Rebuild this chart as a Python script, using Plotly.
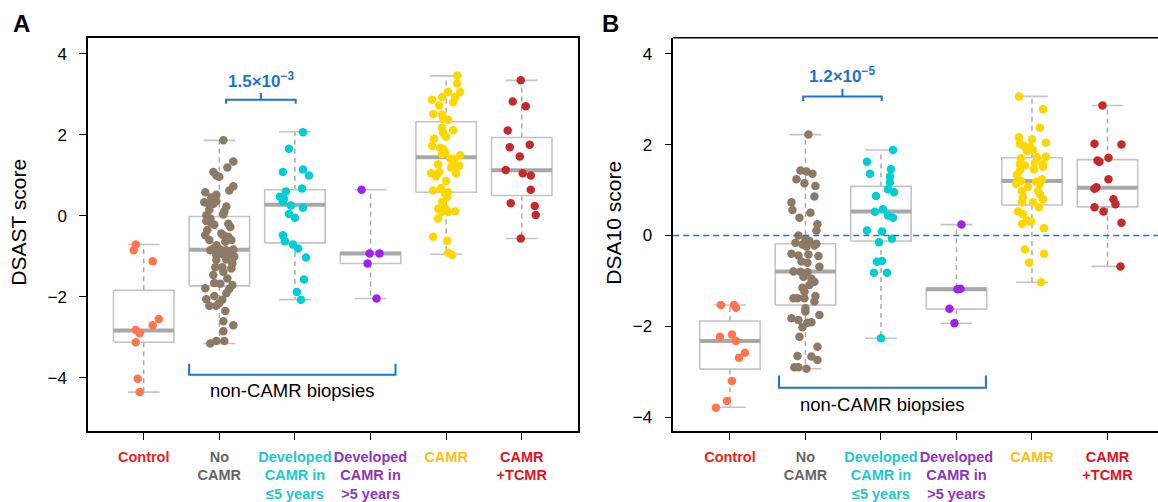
import plotly.graph_objects as go

# ---------------- data ----------------
categories = ["Control", "No CAMR", "Developed CAMR in ≤5 years",
              "Developed CAMR in >5 years", "CAMR", "CAMR+TCMR"]
tick_labels = ["Control", "No<br>CAMR", "Developed<br>CAMR in<br>≤5 years",
               "Developed<br>CAMR in<br>>5 years", "CAMR", "CAMR<br>+TCMR"]
label_colors = ["#F21D1D", "#666666", "#1CC8D4", "#8E35BC", "#FDBF14", "#E0141E"]
point_colors = ["#FF7550", "#8C7A66", "#00CED1", "#A020F0", "#FFD700", "#C42A2A"]
y_ticks = [-4, -2, 0, 2, 4]
y_tick_text = ["\u22124", "\u22122", "0", "2", "4"]

# Panel A: DSAST score
a_control = [-0.71, -0.85, -1.12, -2.55, -2.70, -2.82, -2.90, -3.12, -4.02, -4.35]
a_nocamr = [1.86, 1.34, 1.19, 1.08, 0.99, 0.96, 0.73, 0.62, 0.58, 0.52, 0.33, 0.31, 0.29,
            0.36, 0.23, 0.11, 0.03, 0.01, -0.07, -0.13, -0.18, -0.22, -0.20, -0.28, -0.48,
            -0.48, -0.52, -0.60, -0.60, -0.64, -0.81, -0.85, -0.83, -0.85, -0.83, -0.85,
            -0.97, -0.95, -0.97, -1.01, -1.09, -1.08, -1.27, -1.27, -1.18, -1.30, -1.38,
            -1.79, -1.66, -1.68, -1.71, -1.81, -1.91, -2.06, -1.98, -2.07, -2.15, -2.22,
            -2.22, -2.60, -2.70, -2.85, -3.15, -3.09, -3.09, -0.44, -0.73, -1.46, 0.45,
            -0.35, -1.55, 0.15, -2.35]
a_dev5 = [2.06, 1.65, 1.08, 1.14, 0.99, 0.67, 0.60, 0.47, 0.42, 0.35, 0.25, 0.20, 0.04,
          -0.05, -0.48, -0.63, -0.71, -0.81, -1.03, -1.57, -1.88, -2.07]
a_devlate = [0.64, -0.93, -0.93, -1.18, -2.04]
a_camr = [3.46, 3.26, 3.05, 3.05, 2.93, 2.93, 2.86, 2.80, 2.72, 2.51, 2.50, 2.39, 2.37,
          2.17, 2.11, 2.05, 1.95, 1.90, 1.72, 1.68, 1.64, 1.52, 1.56, 1.49, 1.41, 1.40,
          1.25, 1.23, 1.27, 1.19, 1.05, 1.08, 0.97, 1.05, 0.86, 0.62, 0.68, 0.58, 0.54,
          0.46, 0.34, 0.17, 0.19, 0.09, 0.09, 0.11, -0.07, -0.52, -0.62, -0.91, -0.97]
a_tcmr = [3.34, 2.82, 2.70, 2.10, 1.69, 1.75, 1.46, 1.13, 1.05, 0.99, 0.64, 0.31, 0.24,
          0.02, -0.56]

# jitter of each point (pixels)
ja_control = [-8, -10, 9, 15, 9, -8, -4, -8, -6, -4]
ja_nocamr = [4, 14, 8, -6, -3, 0, 14, 10, -14, -3, -15, -11, -6, -3, 7, 5, 4, -13, -9, -13,
             -8, -5, 9, 11, -14, 4, 9, 12, -10, 6, -6, -3, 1, 7, 14, -9, -3, 3, 10, 15, -3,
             7, -4, 3, 13, 12, 4, -14, -5, 1, 13, 10, 7, -13, -5, 3, 0, -3, -10, 4, 14, 4,
             -9, -3, 5, 2, -3, -6, -8, -12, 8, -10, 6]
ja_dev5 = [8, -6, -12, 8, 14, 7, -9, -15, -11, -12, -4, 8, -6, 0, -12, -10, -2, 3, 11, 9, 2, 6]
ja_devlate = [-9, -1, 9, -3, 6]
ja_camr = [11, 11, 2, 14, -4, 9, -14, 7, -7, -13, -4, -3, 2, -4, 7, -3, 0, -12, -14, -6, -3,
           -4, -1, 14, 4, 8, 6, 13, -8, 5, -15, -7, -10, 10, 0, -13, -5, 2, -1, 1, -4, -8,
           -1, -4, 2, 9, -8, -13, 1, 2, 6]
ja_tcmr = [-1, -9, 4, -14, -12, 8, -2, -16, 1, 9, 9, -11, 13, 14, -1]

# box statistics, panel A (lower whisker, q1, median, q3, upper whisker)
a_lo = [-4.35, -3.15, -2.07, -2.04, -0.95, -0.56]
a_q1 = [-3.12, -1.73, -0.67, -1.18, 0.58, 0.50]
a_med = [-2.83, -0.84, 0.27, -0.93, 1.44, 1.12]
a_q3 = [-1.84, -0.02, 0.64, -0.91, 2.32, 1.93]
a_hi = [-0.71, 1.86, 2.07, 0.64, 3.45, 3.34]

# Panel B: DSA10 score
b_control = [-1.53, -1.53, -1.59, -2.23, -2.18, -2.32, -2.58, -2.69, -3.20, -3.64, -3.79]
b_nocamr = [2.22, 1.43, 1.41, 1.36, 1.24, 1.15, 1.09, 0.86, 0.73, 0.56, 0.50, 0.39, 0.25,
            0.11, 0.00, -0.07, -0.12, -0.16, -0.18, -0.20, -0.24, -0.22, -0.40, -0.44, -0.42,
            -0.45, -0.57, -0.60, -0.69, -0.79, -0.80, -0.81, -0.91, -0.95, -1.02, -1.09,
            -1.15, -1.24, -1.33, -1.38, -1.38, -1.38, -1.45, -1.60, -1.67, -1.82, -1.86,
            -1.75, -1.91, -1.92, -2.02, -2.23, -2.45, -2.65, -2.66, -2.90, -2.90, -2.93, -2.74]
b_dev5 = [1.88, 1.62, 1.36, 1.46, 1.30, 1.17, 1.02, 0.95, 0.87, 0.58, 0.52, 0.44, 0.39,
          0.11, 0.09, -0.07, -0.15, -0.58, -0.56, -0.82, -0.82, -2.26]
b_devlate = [0.24, -1.18, -1.17, -1.61, -1.93]
b_camr = [3.06, 2.78, 2.37, 2.16, 2.11, 2.04, 2.02, 1.97, 1.94, 1.88, 1.86, 1.73, 1.70,
          1.72, 1.60, 1.57, 1.57, 1.54, 1.51, 1.46, 1.43, 1.33, 1.24, 1.20, 1.18, 1.14,
          1.14, 1.07, 0.98, 0.98, 0.91, 0.84, 0.80, 0.73, 0.73, 0.62, 0.53, 0.47, 0.33,
          0.31, 0.26, 0.16, -0.31, -0.40, -0.60, -1.03]
b_tcmr = [2.86, 2.02, 2.00, 1.71, 1.65, 1.62, 1.24, 1.06, 1.03, 0.80, 0.69, 0.62, 0.53,
          0.28, -0.68]

jb_control = [-9, 4, 6, -10, 2, 6, 15, 9, 2, -3, -14]
jb_nocamr = [3, -5, 1, 7, -9, -1, 10, 9, -14, -13, 5, -6, 12, 11, -7, 0, 4, -10, 11, -3, 1,
             9, -14, -7, 3, 13, -4, 2, 14, -12, -5, 2, -2, 6, 9, 4, -3, -1, 10, -12, -8, -1,
             9, 0, 0, -14, -7, 14, 6, 2, -3, -6, 12, -8, 6, -11, -7, 1, 12]
jb_dev5 = [12, -14, -11, 10, 9, 9, 7, 13, -5, 2, -6, 7, 12, -14, 1, 11, -2, -4, 1, -7, 6, 0]
jb_devlate = [5, 1, 4, -7, -2]
jb_camr = [-13, 11, 8, -13, 0, 14, -12, -8, -2, 1, -5, 14, -11, 5, 3, 11, -12, -7, 11, 2,
           -12, -15, 10, -11, 4, 8, -16, -4, 6, -10, 8, -9, 11, 1, -10, 7, -14, -9, -5, -1,
           -10, 12, -7, 12, -3, 9]
jb_tcmr = [-5, -13, 14, 1, -10, -8, 1, -11, -13, 6, 8, -13, -4, 14, 13]

b_lo = [-3.78, -2.93, -2.26, -1.93, -1.03, -0.68]
b_q1 = [-2.94, -1.53, -0.12, -1.62, 0.67, 0.63]
b_med = [-2.32, -0.79, 0.53, -1.18, 1.20, 1.05]
b_q3 = [-1.88, -0.18, 1.08, -1.16, 1.71, 1.67]
b_hi = [-1.53, 2.22, 1.88, 0.24, 3.06, 2.86]

# significance annotations
a_pval = "1.5×10<sup>\u22123</sup>"
b_pval = "1.2×10<sup>\u22125</sup>"
a_sig_x = [1.09, 2.01]
a_sig_y = 2.86
b_sig_x = [0.97, 2.01]
b_sig_y = 3.06
a_group_x = [0.60, 3.33]
a_group_y = -3.92
b_group_x = [0.65, 3.39]
b_group_y = -3.35
group_label = "non-CAMR biopsies"

# ---------------- styling ----------------
FONT = "Liberation Sans, Arial, Helvetica, sans-serif"
BLUE = "#1A74D0"
BOX_COL = "#C4C4C4"
MED_COL = "#A8A8A8"
WHISK_COL = "#ABABAB"
PX_PER_UNIT = 75.5
BOX_HALF = 0.4
CAP_HALF = 0.21
W, H = 1158, 502

fig = go.Figure()


def add_panel(xa, ya, groups, jitters, lo, q1, med, q3, hi):
    bx, by, mx, my, wx, wy, cx, cy = [], [], [], [], [], [], [], []
    for i in range(len(categories)):
        bx += [i - BOX_HALF, i + BOX_HALF, i + BOX_HALF, i - BOX_HALF, i - BOX_HALF, None]
        by += [q1[i], q1[i], q3[i], q3[i], q1[i], None]
        mx += [i - BOX_HALF, i + BOX_HALF, None]
        my += [med[i], med[i], None]
        wx += [i, i, None, i, i, None]
        wy += [q3[i], hi[i], None, q1[i], lo[i], None]
        cx += [i - CAP_HALF, i + CAP_HALF, None, i - CAP_HALF, i + CAP_HALF, None]
        cy += [hi[i], hi[i], None, lo[i], lo[i], None]
    common = dict(xaxis=xa, yaxis=ya, mode="lines", hoverinfo="skip", showlegend=False)
    fig.add_trace(go.Scatter(x=wx, y=wy, line=dict(color=WHISK_COL, width=1.5, dash="5px,4px"), **common))
    fig.add_trace(go.Scatter(x=cx, y=cy, line=dict(color=BOX_COL, width=1.6), **common))
    fig.add_trace(go.Scatter(x=bx, y=by, line=dict(color=BOX_COL, width=1.6), **common))
    fig.add_trace(go.Scatter(x=mx, y=my, line=dict(color=MED_COL, width=4), **common))
    for i, (vals, jit) in enumerate(zip(groups, jitters)):
        xs = [i + j / PX_PER_UNIT for j in jit]
        fig.add_trace(go.Scatter(
            x=xs, y=vals, xaxis=xa, yaxis=ya, mode="markers", showlegend=False,
            name=categories[i],
            marker=dict(color=point_colors[i], size=8.5, line=dict(width=0))))


add_panel("x", "y",
          [a_control, a_nocamr, a_dev5, a_devlate, a_camr, a_tcmr],
          [ja_control, ja_nocamr, ja_dev5, ja_devlate, ja_camr, ja_tcmr],
          a_lo, a_q1, a_med, a_q3, a_hi)
add_panel("x2", "y2",
          [b_control, b_nocamr, b_dev5, b_devlate, b_camr, b_tcmr],
          [jb_control, jb_nocamr, jb_dev5, jb_devlate, jb_camr, jb_tcmr],
          b_lo, b_q1, b_med, b_q3, b_hi)


def add_sig(xa, ya, xs, y, text):
    mid = (xs[0] + xs[1]) / 2
    fig.add_trace(go.Scatter(
        x=[xs[0], xs[0], mid, mid, mid, xs[1], xs[1]],
        y=[y - 0.1, y, y, y + 0.17, y, y, y - 0.1],
        xaxis=xa, yaxis=ya, mode="lines", hoverinfo="skip", showlegend=False,
        line=dict(color=BLUE, width=2)))
    fig.add_annotation(x=mid, y=y + 0.48, xref=xa, yref=ya, text="<b>" + text + "</b>",
                       showarrow=False, font=dict(family=FONT, size=17, color=BLUE))


def add_group(xa, ya, xs, y, up):
    fig.add_trace(go.Scatter(
        x=[xs[0], xs[0], xs[1], xs[1]], y=[y + up, y, y, y + up],
        xaxis=xa, yaxis=ya, mode="lines", hoverinfo="skip", showlegend=False,
        line=dict(color=BLUE, width=2)))


add_sig("x", "y", a_sig_x, a_sig_y, a_pval)
add_sig("x2", "y2", b_sig_x, b_sig_y, b_pval)
add_group("x", "y", a_group_x, a_group_y, 0.27)
add_group("x2", "y2", b_group_x, b_group_y, 0.27)
fig.add_annotation(x=(a_group_x[0] + a_group_x[1]) / 2, y=a_group_y - 0.40, xref="x", yref="y",
                   text=group_label, showarrow=False, font=dict(family=FONT, size=18.5, color="black"))
fig.add_annotation(x=(b_group_x[0] + b_group_x[1]) / 2, y=b_group_y - 0.36, xref="x2", yref="y2",
                   text=group_label, showarrow=False, font=dict(family=FONT, size=18.5, color="black"))

# zero line in panel B
fig.add_shape(type="line", xref="x2 domain", yref="y2", x0=0, x1=1, y0=0, y1=0,
              line=dict(color=BLUE, width=1.5, dash="6px,4px"))
# top frame line of panel B
fig.add_shape(type="line", xref="x2 domain", yref="y2 domain", x0=0, x1=1, y0=1, y1=1,
              line=dict(color="black", width=1.5))


def paper_text(px, py, text, size, angle=0):
    fig.add_annotation(x=px / W, y=1 - py / H, xref="paper", yref="paper", text=text,
                       xanchor="center", yanchor="middle", textangle=angle, showarrow=False,
                       font=dict(family=FONT, size=size, color="black"))


paper_text(21, 23.5, "<b>A</b>", 24)
paper_text(610, 23.5, "<b>B</b>", 24)
paper_text(19, 224, "DSAST score", 21, -90)
paper_text(614, 224, "DSA10 score", 21, -90)

ticktext = ["<b><span style='color:%s'>%s</span></b>" % (c, t) for c, t in zip(label_colors, tick_labels)]
xcommon = dict(tickvals=list(range(len(categories))), ticktext=ticktext, ticks="outside",
               ticklen=7, tickwidth=1.3, tickcolor="black", showline=True, linecolor="black",
               linewidth=1.5, showgrid=False, zeroline=False,
               tickfont=dict(family=FONT, size=14.5), ticklabelstandoff=4)
ycommon = dict(tickvals=y_ticks, ticktext=y_tick_text, ticks="outside", ticklen=7,
               tickwidth=1.3, tickcolor="black", showline=True, linecolor="black",
               linewidth=1.5, showgrid=False, zeroline=False,
               tickfont=dict(family=FONT, size=17, color="black"), ticklabelstandoff=9)

y_dom = [68 / H, 464 / H]
fig.update_layout(
    width=W, height=H, margin=dict(l=0, r=0, t=0, b=0),
    paper_bgcolor="white", plot_bgcolor="white", showlegend=False,
    xaxis=dict(domain=[88 / W, 577.7 / W], range=[-0.737, 5.74], anchor="y",
               mirror=True, **xcommon),
    yaxis=dict(domain=y_dom, range=[-5.32, 4.39], anchor="x", mirror=True, **ycommon),
    xaxis2=dict(domain=[673.3 / W, 1.0], range=[-0.75, 5.669], anchor="y2", **xcommon),
    yaxis2=dict(domain=y_dom, range=[-4.31, 4.35], anchor="x2", **ycommon),
)

fig.write_html("out.html")
